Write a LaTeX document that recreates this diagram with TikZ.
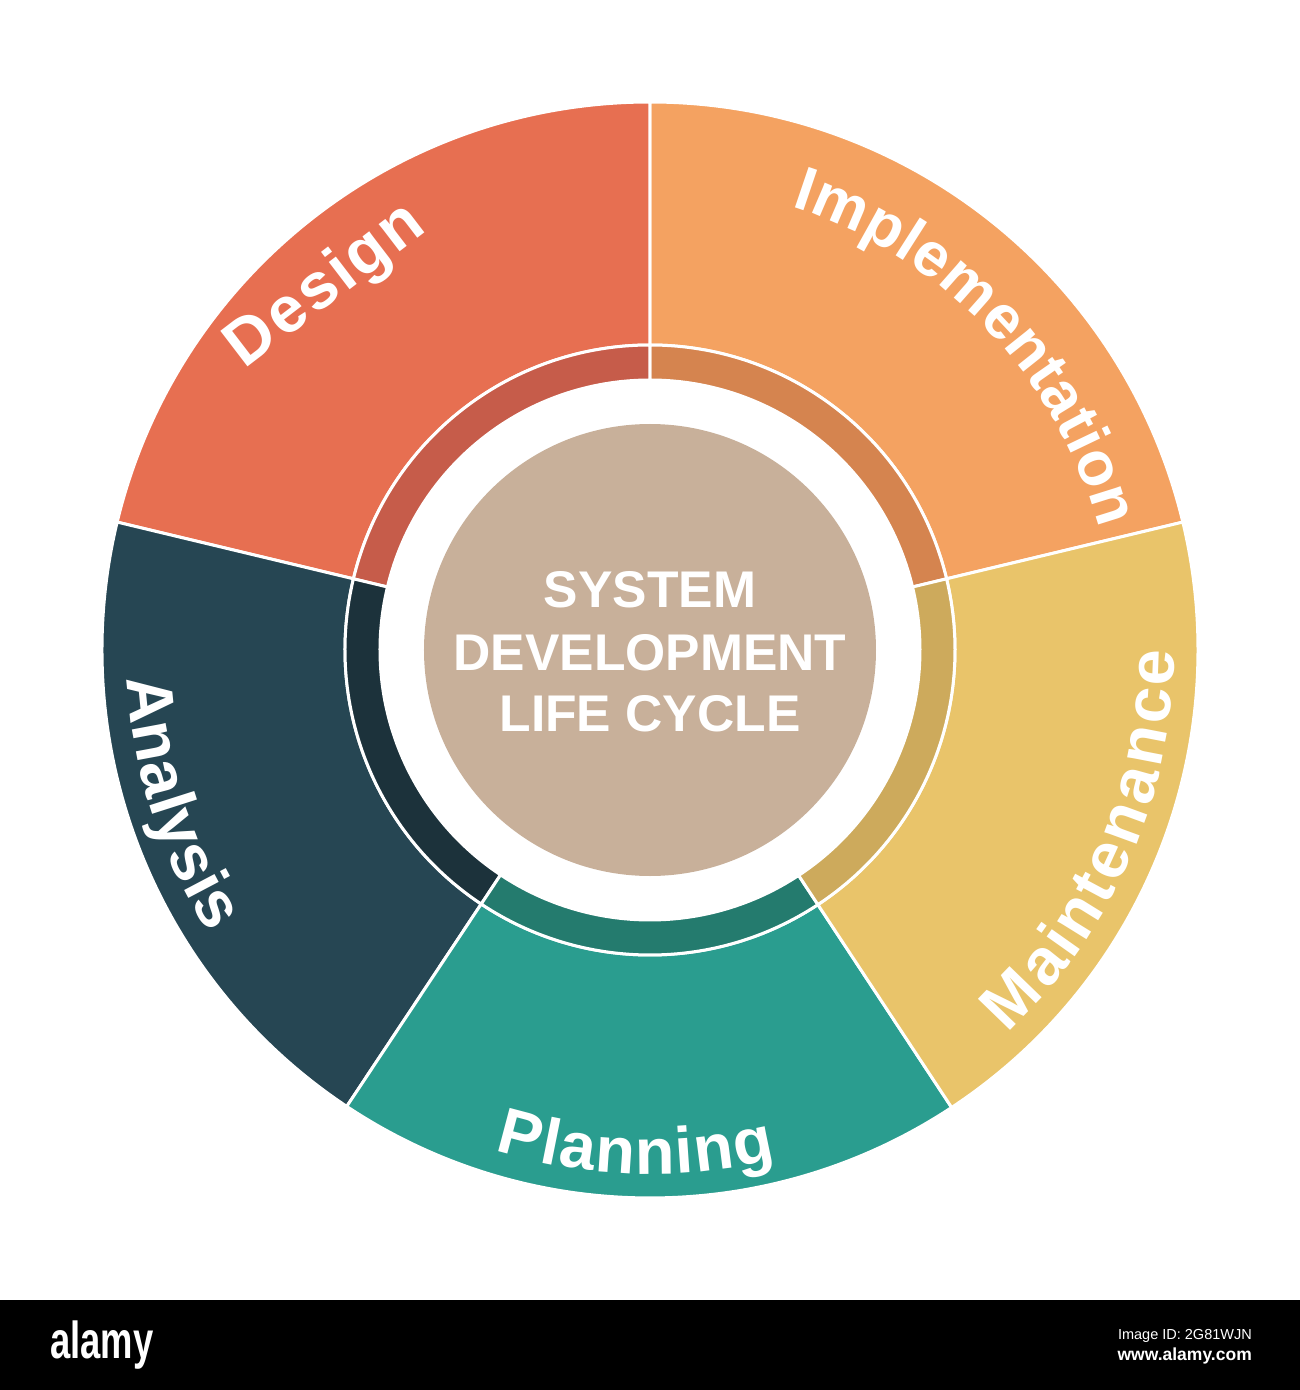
\documentclass[tikz,border=0pt]{standalone}
\usepackage{fontspec}
\setmainfont{Liberation Sans}
\usetikzlibrary{decorations.text}
\definecolor{cDesign}{HTML}{E76F51}
\definecolor{cImpl}{HTML}{F4A261}
\definecolor{cMaint}{HTML}{E9C46A}
\definecolor{cPlan}{HTML}{2A9D8F}
\definecolor{cAnal}{HTML}{264653}
\definecolor{dDesign}{HTML}{C65C4A}
\definecolor{dImpl}{HTML}{D5844F}
\definecolor{dMaint}{HTML}{CDAA5C}
\definecolor{dPlan}{HTML}{247B6E}
\definecolor{dAnal}{HTML}{1C323B}
\definecolor{cCore}{HTML}{C8B09A}
\newcommand\corefont{\fontsize{51.6}{62}\selectfont\bfseries}
% annular sector: colour, start angle, end angle, inner r, outer r
\newcommand\ringsector[5]{%
  \filldraw[fill=#1, draw=white, line width=3pt, line join=round]
    (#2:#4) arc[start angle=#2, end angle=#3, radius=#4]
    -- (#3:#5) arc[start angle=#3, end angle=#2, radius=#5] -- cycle;}
\tikzset{
  lbl/.style 2 args={decorate, decoration={text effects along path, text={#1},
    text effects/.cd, text along path, fit text to path,
    characters={transform shape, anchor=base, inner sep=0pt, text=white,
      font=\fontsize{#2}{#2}\selectfont\bfseries}}},
  coretext/.style={anchor=base, inner sep=0pt, text=white, font=\corefont},
  barsmall/.style={anchor=base east, inner sep=0pt, text=white}
}
\begin{document}
\begin{tikzpicture}[x=1pt, y=1pt]
\useasboundingbox (-650,-740) rectangle (650,650);
\fill[white] (-650,-740) rectangle (650,650);
% outer segments
\ringsector{cImpl}{13.5}{90}{305}{548}
\ringsector{cDesign}{90}{166.5}{305}{548}
\ringsector{cAnal}{166.5}{236.4}{305}{548}
\ringsector{cPlan}{236.4}{303.4}{305}{548}
\ringsector{cMaint}{-56.6}{13.5}{305}{548}
% inner darker bands
\ringsector{dImpl}{13.5}{90}{270}{305}
\ringsector{dDesign}{90}{166.5}{270}{305}
\ringsector{dAnal}{166.5}{236.4}{270}{305}
\ringsector{dPlan}{236.4}{303.4}{270}{305}
\ringsector{dMaint}{-56.6}{13.5}{270}{305}
% core
\fill[cCore] (0,0) circle[radius=226];
\node[coretext] (t1) at (0,43) {SYSTEM};
\node[coretext] (t2) at (0,-20) {DEVELOPMENT};
\node[coretext] (t3) at (0,-81) {LIFE CYCLE};
% labels
\path[lbl={Design}{65}] (-405,280) -- (-222,420);
\path[lbl={Implementation}{62}] (72.3:465) arc[start angle=72.3, end angle=15.1, radius=465];
\path[lbl={Analysis}{65}] (183.1:524) arc[start angle=183.1, end angle=212.8, radius=524];
\path[lbl={Planning}{65}] (252.8:524) arc[start angle=252.8, end angle=283.9, radius=524];
\path[lbl={Maintenance}{65}] (-47:524) arc[start angle=-47, end angle=0, radius=524];
% bottom bar
\fill[black] (-650,-740) rectangle (650,-650);
\node[anchor=base west, inner sep=0pt, text=white] (brand) at (-600,-708)
  {\scalebox{0.7}[1]{\fontsize{52}{60}\selectfont\bfseries alamy}};
\node[barsmall, font=\fontsize{14.5}{16}\selectfont] (imgid) at (602,-689) {Image ID: 2G81WJN};
\node[barsmall, font=\fontsize{17.5}{20}\selectfont\bfseries] (url) at (602,-710) {www.alamy.com};
\end{tikzpicture}
\end{document}
